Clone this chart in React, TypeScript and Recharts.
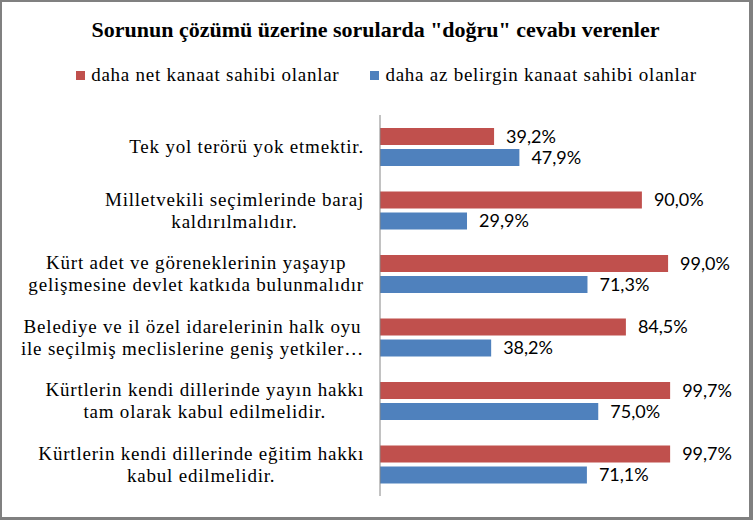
import { BarChart, Bar, XAxis, YAxis, Legend, LabelList } from 'recharts'

// category labels (line breaks where the original wraps)
const categories = [
  'Tek yol terörü yok etmektir.',
  'Milletvekili seçimlerinde baraj\nkaldırılmalıdır.',
  'Kürt adet ve göreneklerinin yaşayıp\ngelişmesine devlet katkıda bulunmalıdır',
  'Belediye ve il özel idarelerinin halk oyu\nile seçilmiş meclislerine geniş yetkiler…',
  'Kürtlerin kendi dillerinde yayın hakkı\ntam olarak kabul edilmelidir.',
  'Kürtlerin kendi dillerinde eğitim hakkı\nkabul edilmelidir.'
]
const netValues = [39.2, 90.0, 99.0, 84.5, 99.7, 99.7]
const belirginValues = [47.9, 29.9, 71.3, 38.2, 75.0, 71.1]

const SERIES = [
  { key: 'net', name: 'daha net kanaat sahibi olanlar', color: '#C0504D' },
  { key: 'belirgin', name: 'daha az belirgin kanaat sahibi olanlar', color: '#4F81BD' }
]

const data = categories.map((c, i) => ({
  category: c,
  net: netValues[i],
  belirgin: belirginValues[i]
}))

const SERIF = "'Liberation Serif', 'Times New Roman', serif"
const LABEL_FONT = `19px ${SERIF}`
const LABEL_SPACING = 0.8

let ctx: CanvasRenderingContext2D | null = null
const measure = (s: string) => {
  if (!ctx) ctx = document.createElement('canvas').getContext('2d')
  if (!ctx) return s.length * 9
  ctx.font = LABEL_FONT
  return ctx.measureText(s).width + s.length * LABEL_SPACING
}

const fmt = (v: any) => `${Number(v).toFixed(1).replace('.', ',')}%`

const CategoryTick = (props: any) => {
  const { x, y, payload } = props
  const lines: string[] = String(payload.value).split('\n')
  const blockW = Math.max(...lines.map(measure))
  const right = x - 8
  const cx = right - blockW / 2
  const lh = 22
  const startY = y - ((lines.length - 1) * lh) / 2
  return (
    <g>
      {lines.map((l, i) => (
        <text
          key={i}
          x={cx}
          y={startY + i * lh}
          textAnchor="middle"
          dominantBaseline="central"
          fill="#000"
          style={{ font: LABEL_FONT, letterSpacing: LABEL_SPACING }}
        >
          {l}
        </text>
      ))}
    </g>
  )
}

const renderLegend = () => (
  <div
    style={{
      display: 'flex',
      justifyContent: 'center',
      alignItems: 'center',
      gap: 31,
      fontFamily: SERIF,
      fontSize: 19,
      letterSpacing: 0.75,
      color: '#000'
    }}
  >
    {SERIES.map(s => (
      <div key={s.key} style={{ display: 'flex', alignItems: 'center', gap: 6 }}>
        <span style={{ width: 9, height: 9, background: s.color, display: 'inline-block' }} />
        <span>{s.name}</span>
      </div>
    ))}
  </div>
)

export default function App() {
  return (
    <div
      style={{
        position: 'absolute',
        left: 0,
        top: 0,
        width: 753,
        height: 520,
        background: '#fff',
        boxSizing: 'border-box',
        borderStyle: 'solid',
        borderColor: '#808080',
        borderWidth: '2px 4px 3px 2px',
        overflow: 'hidden'
      }}
    >
      <div
        style={{
          position: 'absolute',
          left: 0,
          top: 15,
          width: 747,
          textAlign: 'center',
          fontFamily: SERIF,
          fontWeight: 'bold',
          fontSize: 22,
          color: '#000'
        }}
      >
        Sorunun çözümü üzerine sorularda "doğru" cevabı verenler
      </div>
      <div style={{ position: 'absolute', left: -2, top: -2 }}>
        <BarChart
          width={753}
          height={520}
          data={data}
          layout="vertical"
          margin={{ top: 115, right: 82, bottom: 24, left: 10 }}
          barSize={17}
          barGap={4}
        >
          <XAxis type="number" domain={[0, 100]} hide />
          <YAxis
            type="category"
            dataKey="category"
            width={370}
            axisLine={{ stroke: '#868686', strokeWidth: 1 }}
            tickLine={false}
            tick={<CategoryTick />}
            interval={0}
          />
          <Legend
            layout="horizontal"
            verticalAlign="middle"
            align="center"
            content={renderLegend}
            wrapperStyle={{ top: 64, left: 10, width: 753 }}
          />
          {SERIES.map(s => (
            <Bar key={s.key} dataKey={s.key} name={s.name} fill={s.color} isAnimationActive={false}>
              <LabelList
                dataKey={s.key}
                position="right"
                offset={12}
                formatter={fmt}
                style={{ font: "18px Lato, 'Open Sans', sans-serif", fill: '#000' }}
              />
            </Bar>
          ))}
        </BarChart>
      </div>
    </div>
  )
}
